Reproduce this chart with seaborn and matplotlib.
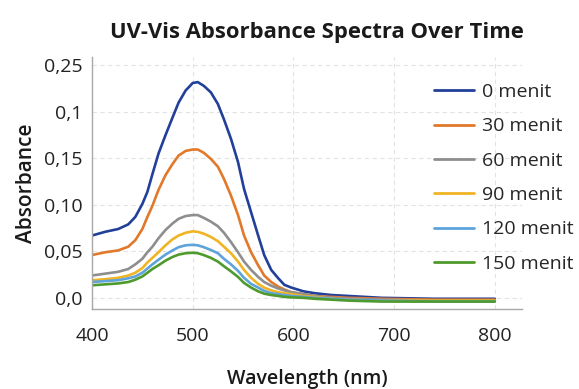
import matplotlib
matplotlib.use("Agg")
import matplotlib.pyplot as plt
import seaborn as sns
import pandas as pd

# ---- data ----
wavelength = [400, 413, 426, 436, 443, 450, 455, 460, 466, 473, 480, 486, 493, 500,
              505, 511, 518, 525, 531, 538, 545, 551, 558, 565, 571, 578, 585, 591, 598,
              610, 621, 638, 655, 688, 740, 800]

abs_0 = [0.067, 0.071, 0.074, 0.079, 0.087, 0.101, 0.114, 0.133, 0.155, 0.175, 0.194, 0.210, 0.223, 0.231,
         0.232, 0.228, 0.221, 0.2085, 0.192, 0.171, 0.146, 0.117, 0.092, 0.067, 0.046, 0.030, 0.021, 0.014, 0.011,
         0.007, 0.005, 0.003, 0.002, 0.000, -0.001, -0.001]
abs_30 = [0.046, 0.049, 0.051, 0.055, 0.062, 0.074, 0.087, 0.099, 0.116, 0.132, 0.144, 0.153, 0.158, 0.1595,
          0.1595, 0.156, 0.1495, 0.141, 0.128, 0.110, 0.089, 0.067, 0.049, 0.035, 0.024, 0.017, 0.012, 0.009, 0.006,
          0.004, 0.002, 0.001, 0.000, -0.001, -0.002, -0.002]
abs_60 = [0.024, 0.026, 0.028, 0.031, 0.036, 0.042, 0.049, 0.055, 0.064, 0.073, 0.080, 0.085, 0.088, 0.089,
          0.089, 0.086, 0.082, 0.077, 0.070, 0.060, 0.049, 0.039, 0.030, 0.0225, 0.017, 0.013, 0.010, 0.008, 0.006,
          0.004, 0.002, 0.000, -0.001, -0.002, -0.003, -0.003]
abs_90 = [0.019, 0.020, 0.0215, 0.024, 0.027, 0.032, 0.038, 0.043, 0.049, 0.0565, 0.063, 0.067, 0.070, 0.0715,
          0.071, 0.069, 0.0655, 0.061, 0.055, 0.048, 0.039, 0.030, 0.0215, 0.015, 0.011, 0.008, 0.006, 0.005, 0.004,
          0.002, 0.001, -0.001, -0.002, -0.003, -0.003, -0.003]
abs_120 = [0.017, 0.018, 0.019, 0.021, 0.023, 0.027, 0.0315, 0.036, 0.041, 0.0465, 0.051, 0.0545, 0.0565, 0.057,
           0.0565, 0.0545, 0.0515, 0.048, 0.042, 0.036, 0.029, 0.0215, 0.015, 0.011, 0.0075, 0.005, 0.004, 0.003, 0.002,
           0.001, 0.000, -0.001, -0.002, -0.003, -0.004, -0.004]
abs_150 = [0.0135, 0.0145, 0.0155, 0.017, 0.0195, 0.023, 0.027, 0.031, 0.035, 0.040, 0.044, 0.0465, 0.048, 0.0485,
           0.048, 0.046, 0.043, 0.039, 0.034, 0.0285, 0.0225, 0.016, 0.011, 0.007, 0.0045, 0.003, 0.002, 0.001, 0.0005,
           0.000, -0.001, -0.002, -0.003, -0.004, -0.004, -0.004]

series_labels = ["0 menit", "30 menit", "60 menit", "90 menit", "120 menit", "150 menit"]
series_values = [abs_0, abs_30, abs_60, abs_90, abs_120, abs_150]
colors = ["#22409A", "#E2792A", "#8E8E8E", "#F0B424", "#5EA3DA", "#4F9A2C"]

xticks = [400, 500, 600, 700, 800]
yticks = [0.0, 0.05, 0.10, 0.15, 0.20, 0.25]
ytick_labels = ["0,0", "0,05", "0,10", "0,15", "0,1", "0,25"]

title = "UV-Vis Absorbance Spectra Over Time"
xlabel = "Wavelength (nm)"
ylabel = "Absorbance"

# ---- build long-form table ----
rows = []
for lab, vals in zip(series_labels, series_values):
    for w, v in zip(wavelength, vals):
        rows.append({"Wavelength": w, "Absorbance": v, "Time": lab})
df = pd.DataFrame(rows)

sns.set_style("white")
plt.rcParams["font.family"] = ["Open Sans", "DejaVu Sans"]

fig = plt.figure(figsize=(5.79, 3.89), dpi=100)
ax = fig.add_axes([92 / 579, 1 - 309 / 389, (522 - 92) / 579, (309 - 57) / 389])

sns.lineplot(data=df, x="Wavelength", y="Absorbance", hue="Time",
             hue_order=series_labels, palette=dict(zip(series_labels, colors)),
             linewidth=1.9, ax=ax, legend=True)
for ln in ax.get_lines():
    ln.set_solid_joinstyle("round")
    ln.set_solid_capstyle("round")

ax.set_xlim(400, 827)
ax.set_ylim(-0.012, 0.259)
ax.set_xticks(xticks)
ax.set_yticks(yticks)
ax.set_yticklabels(ytick_labels)

ax.grid(True, linestyle=(0, (4, 3)), color="#E3E3E3", linewidth=0.8)
ax.set_axisbelow(True)
for s in ["top", "right"]:
    ax.spines[s].set_visible(False)
for s in ["left", "bottom"]:
    ax.spines[s].set_color("#A8A8A8")
    ax.spines[s].set_linewidth(1.0)

ax.tick_params(axis="both", direction="in", length=6, width=0.8, color="#B0B0B0",
               labelcolor="#222222")
ax.tick_params(axis="x", pad=13, labelsize=14)
ax.tick_params(axis="y", pad=7, labelsize=14)

ax.set_xlabel(xlabel, fontsize=14, fontweight="semibold", color="#1a1a1a", labelpad=17)
ax.set_ylabel(ylabel, fontsize=15, fontweight="semibold", color="#1a1a1a", labelpad=5)
ax.set_title(title, fontsize=15.8, fontweight="bold", color="#1a1a1a", pad=14, x=0.523)

handles, labels = ax.get_legend_handles_labels()
for h in handles:
    h.set_linewidth(2.0)
ax.legend(handles, labels, loc="upper left", bbox_to_anchor=(434 / 579, 1 - 83 / 389),
          bbox_transform=fig.transFigure, frameon=False, fontsize=14,
          handlelength=2.05, handletextpad=0.4, labelspacing=0.84,
          borderpad=0, borderaxespad=0)

fig.savefig("out.png", dpi=100)
